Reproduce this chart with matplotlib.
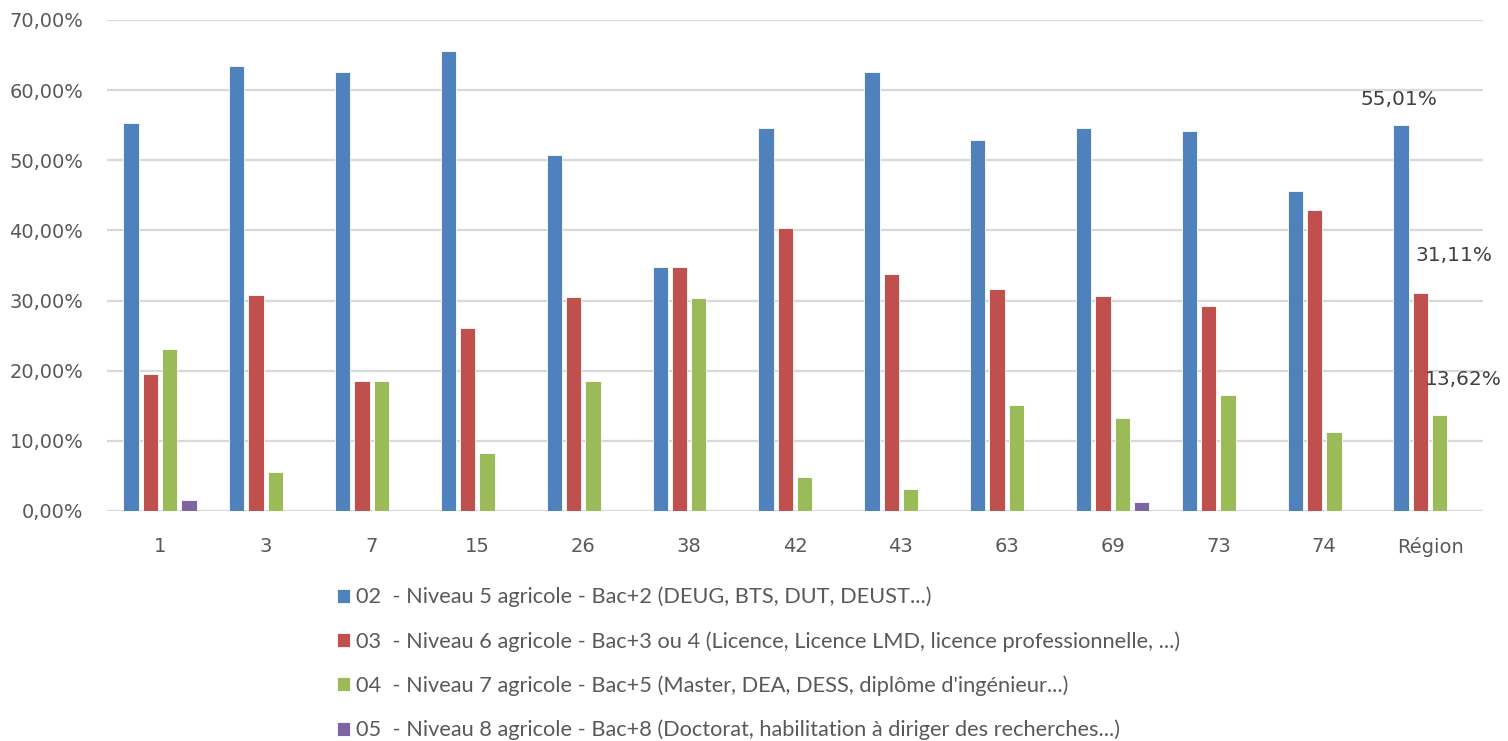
import matplotlib
matplotlib.use("Agg")
import matplotlib.pyplot as plt
import numpy as np

# categories (departements + region)
categories = ["1", "3", "7", "15", "26", "38", "42", "43", "63", "69", "73", "74", "Région"]

niveau5 = [55.3, 63.4, 62.6, 65.6, 50.7, 34.8, 54.6, 62.6, 52.9, 54.6, 54.2, 45.6, 55.01]
niveau6 = [19.5, 30.8, 18.6, 26.1, 30.5, 34.8, 40.3, 33.8, 31.7, 30.6, 29.2, 42.9, 31.11]
niveau7 = [23.1, 5.6, 18.6, 8.2, 18.6, 30.3, 4.9, 3.2, 15.1, 13.3, 16.5, 11.2, 13.62]
niveau8 = [1.6, 0, 0, 0, 0, 0, 0, 0, 0, 1.25, 0, 0, 0]

labels = [
    "02  - Niveau 5 agricole - Bac+2 (DEUG, BTS, DUT, DEUST...)",
    "03  - Niveau 6 agricole - Bac+3 ou 4 (Licence, Licence LMD, licence professionnelle, ...)",
    "04  - Niveau 7 agricole - Bac+5 (Master, DEA, DESS, diplôme d'ingénieur...)",
    "05  - Niveau 8 agricole - Bac+8 (Doctorat, habilitation à diriger des recherches...)",
]
colors = ["#4F81BD", "#C0504D", "#9BBB59", "#8064A2"]

W, H = 1508, 741
fig = plt.figure(figsize=(W / 100, H / 100), dpi=100)
ax = fig.add_axes([107 / W, 1 - 511 / H, (1483 - 107) / W, (511 - 20) / H])

x = np.arange(len(categories))
step = 0.1825
width = 0.145
series = [niveau5, niveau6, niveau7, niveau8]
for i, (vals, c, lab) in enumerate(zip(series, colors, labels)):
    v = np.array(vals) / 100
    ax.bar(x + (i - 1.5) * step, v, width, color=c, edgecolor="white",
           linewidth=0.6, label=lab, zorder=3)

ax.set_xlim(-0.5, len(categories) - 0.5)
ax.set_ylim(0, 0.70)
ax.set_yticks(np.arange(0, 0.71, 0.10))
ax.set_yticklabels([f"{t:.2f}%".replace(".", ",") for t in np.arange(0, 71, 10)])
ax.set_xticks(x)
ax.set_xticklabels(categories)
ax.yaxis.grid(True, color="#D9D9D9", linewidth=1.6, zorder=0)
ax.set_axisbelow(True)
for s in ax.spines.values():
    s.set_visible(False)
ax.tick_params(axis="both", length=0, labelsize=14, labelcolor="#595959")
ax.tick_params(axis="y", pad=17)
ax.tick_params(axis="x", pad=19)

# etiquettes de la region
last = len(categories) - 1
offsets = [(-2, 26), (34, 37), (24, 36)]
for i in range(3):
    val = series[i][last]
    ax.annotate(f"{val:.2f}%".replace(".", ","),
                xy=(x[last] + (i - 1.5) * step, val / 100),
                xytext=offsets[i], textcoords="offset pixels",
                ha="center", va="center", fontsize=14.5, color="#404040")

fig.legend(loc="upper left", bbox_to_anchor=(328 / W, 1 - 578 / H),
           frameon=False, ncol=1, labelcolor="#595959",
           handlelength=0.6, handleheight=0.6, handletextpad=0.3,
           labelspacing=1.09, borderaxespad=0,
           prop={"family": ["Lato", "DejaVu Sans"], "size": 15.7})

fig.savefig("out.png", dpi=100, facecolor="white")
